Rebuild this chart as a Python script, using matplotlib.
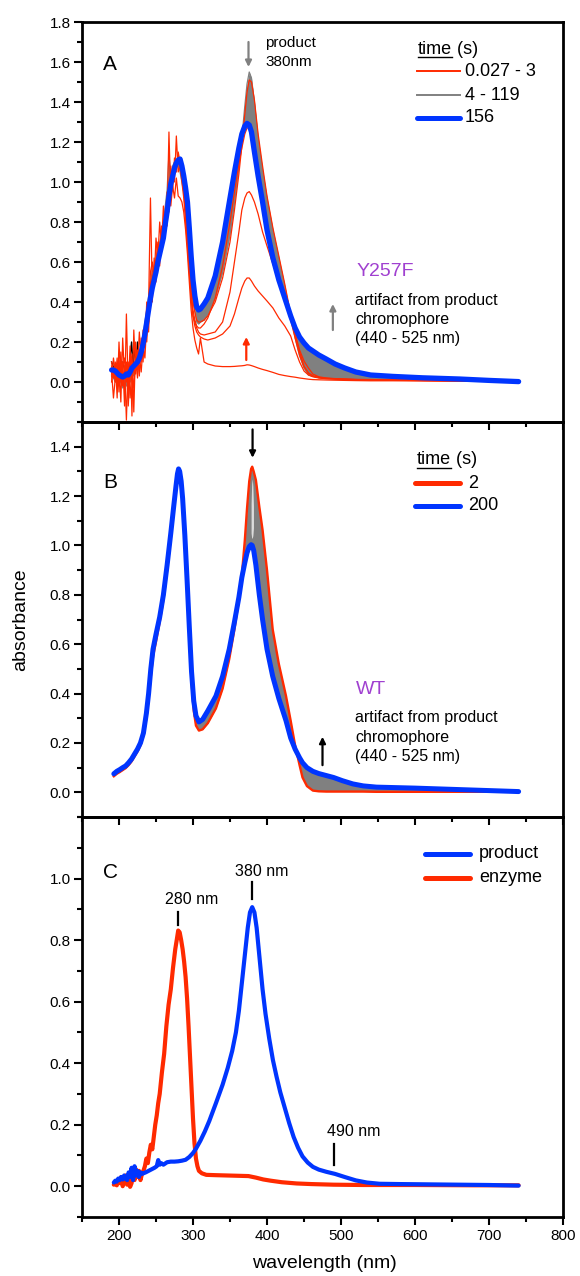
import matplotlib
matplotlib.use("Agg")
import matplotlib.pyplot as plt
from matplotlib.lines import Line2D
from matplotlib.ticker import MultipleLocator, FixedLocator, FormatStrFormatter
import numpy as np

plt.rcParams['font.family'] = ['Liberation Sans', 'DejaVu Sans']

RED = '#ff2a00'
BLUE = '#0035ff'
GRAY = '#808080'
PURPLE = '#a040d0'

# ---------------- Panel A : Y257F, stopped-flow spectra ----------------
A_WL = [190, 192.5, 195, 197.5, 200, 202.5, 205, 207.5, 210, 212.5, 215, 217.5,
        220, 222.5, 225, 227.5, 230, 232.5, 235, 237.5, 240, 242.5, 245, 247.5,
        250, 252.5, 255, 257.5, 260, 262.5, 265, 267.5, 270, 272.5, 275, 277.5,
        280, 282.5, 285, 287.5, 290, 292.5, 295, 297.5, 300,
        302.5, 305, 307.5, 310, 315, 320, 330, 340, 350, 356, 362, 366, 370, 373,
        376, 379, 383, 388, 394, 400, 408, 416, 424, 432, 438, 444, 450, 456, 462,
        470, 480, 492, 505, 520, 540, 570, 610, 660, 700, 740]

# early traces, 0.027 - 3 s
A_red_1 = [0.05, -0.08, 0.02, 0.12, -0.05, 0.15, -0.02, 0.08, -0.19, 0.10, -0.08, 0.05,
           -0.03, 0.12, 0.02, 0.13, 0.05, 0.18, 0.12, 0.30, 0.25, 0.50, 0.40, 0.62,
           0.50, 0.66, 0.62, 0.72, 0.70, 0.80, 0.78, 0.95, 0.88, 0.98, 0.92, 1.02,
           0.93, 0.92, 0.90, 0.85, 0.76, 0.64, 0.50, 0.36, 0.27,
           0.21, 0.17, 0.14, 0.22, 0.10, 0.09, 0.08, 0.077, 0.077, 0.078, 0.08, 0.081, 0.083, 0.086,
           0.085, 0.082, 0.077, 0.07, 0.063, 0.057, 0.048, 0.038, 0.032, 0.027, 0.024, 0.02, 0.017, 0.014, 0.012,
           0.011, 0.01, 0.009, 0.008, 0.007, 0.006, 0.006, 0.005, 0.004, 0.003, 0.0]
A_red_2 = [0.10, 0.03, 0.10, -0.08, 0.20, 0.00, 0.10, -0.12, 0.34, -0.05, 0.18, -0.17,
           0.26, 0.04, 0.16, 0.03, 0.22, 0.10, 0.28, 0.20, 0.38, 0.92, 0.45, 0.55,
           0.60, 0.70, 0.58, 0.78, 0.72, 0.85, 0.82, 1.25, 0.92, 1.05, 1.00, 1.23,
           1.05, 1.08, 1.00, 0.92, 0.80, 0.68, 0.55, 0.42, 0.33,
           0.28, 0.25, 0.235, 0.225, 0.215, 0.21, 0.22, 0.24, 0.28, 0.34, 0.42, 0.47, 0.505, 0.52,
           0.52, 0.505, 0.48, 0.455, 0.43, 0.405, 0.37, 0.32, 0.28, 0.23, 0.16, 0.10, 0.055, 0.035, 0.026,
           0.02, 0.016, 0.014, 0.012, 0.011, 0.01, 0.009, 0.007, 0.005, 0.003, 0.0]
A_red_3 = [0.0, 0.12, 0.05, 0.00, 0.08, -0.10, 0.22, 0.02, 0.10, -0.12, 0.06, 0.14,
           -0.15, 0.20, 0.06, 0.25, 0.10, 0.26, 0.18, 0.40, 0.30, 0.55, 0.60, 0.50,
           0.72, 0.62, 0.80, 0.68, 0.88, 0.76, 0.95, 0.85, 1.08, 0.96, 1.12, 1.05,
           1.15, 1.10, 1.06, 0.95, 0.84, 0.70, 0.57, 0.43, 0.33,
           0.30, 0.27, 0.25, 0.24, 0.235, 0.24, 0.25, 0.30, 0.45, 0.60, 0.75, 0.86, 0.92, 0.945,
           0.952, 0.935, 0.90, 0.84, 0.75, 0.68, 0.59, 0.50, 0.44, 0.33, 0.24, 0.16, 0.105, 0.07, 0.04,
           0.026, 0.02, 0.017, 0.015, 0.013, 0.012, 0.011, 0.009, 0.007, 0.004, 0.0]
A_red_4 = [0.08, 0.02, 0.08, 0.03, 0.11, 0.02, 0.07, 0.12, 0.00, 0.08, 0.03, 0.10,
           0.05, 0.09, 0.10, 0.14, 0.15, 0.20, 0.22, 0.28, 0.35, 0.40, 0.48, 0.53,
           0.58, 0.64, 0.66, 0.70, 0.76, 0.82, 0.88, 0.93, 0.98, 1.02, 1.06, 1.09,
           1.12, 1.12, 1.08, 0.98, 0.86, 0.73, 0.58, 0.45, 0.36,
           0.31, 0.28, 0.27, 0.27, 0.29, 0.32, 0.42, 0.58, 0.80, 0.95, 1.09, 1.17, 1.24, 1.27,
           1.27, 1.24, 1.16, 1.04, 0.90, 0.77, 0.63, 0.52, 0.42, 0.31, 0.22, 0.135, 0.075, 0.045, 0.03,
           0.022, 0.018, 0.016, 0.014, 0.012, 0.011, 0.01, 0.008, 0.006, 0.004, 0.0]
A_red_5 = [0.04, 0.07, 0.0, 0.06, 0.02, 0.09, 0.01, 0.05, 0.08, -0.01, 0.07, 0.02,
           0.09, 0.06, 0.09, 0.10, 0.16, 0.17, 0.26, 0.32, 0.40, 0.46, 0.52, 0.56,
           0.60, 0.63, 0.68, 0.72, 0.78, 0.84, 0.90, 0.96, 1.00, 1.05, 1.09, 1.11,
           1.10, 1.08, 1.03, 0.96, 0.88, 0.78, 0.65, 0.50, 0.40,
           0.35, 0.31, 0.30, 0.30, 0.31, 0.33, 0.40, 0.52, 0.70, 0.86, 1.04, 1.18, 1.34, 1.45,
           1.51, 1.50, 1.41, 1.24, 1.08, 0.93, 0.77, 0.63, 0.49, 0.34, 0.235, 0.15, 0.08, 0.045, 0.03,
           0.022, 0.018, 0.016, 0.014, 0.012, 0.011, 0.01, 0.008, 0.006, 0.004, 0.0]
A_RED = [A_red_1, A_red_2, A_red_3, A_red_4, A_red_5]

# first of the 4 - 119 s traces (the last one is the 156 s trace)
A_gray_first = [0.03, 0.02, 0.0, 0.02, -0.02, 0.01, -0.03, 0.0, -0.02, 0.02, 0.0, 0.04,
                0.03, 0.06, 0.08, 0.12, 0.16, 0.22, 0.30, 0.36, 0.43, 0.50, 0.55, 0.58,
                0.62, 0.66, 0.70, 0.74, 0.80, 0.88, 0.96, 1.14, 1.02, 1.08, 1.10, 1.10,
                1.08, 1.05, 1.00, 0.95, 0.88, 0.80, 0.68, 0.52, 0.42,
                0.36, 0.30, 0.29, 0.30, 0.31, 0.34, 0.42, 0.55, 0.74, 0.90, 1.08, 1.22, 1.38, 1.49,
                1.55, 1.52, 1.40, 1.22, 1.06, 0.92, 0.76, 0.62, 0.48, 0.33, 0.22, 0.13, 0.07, 0.035, 0.028,
                0.024, 0.02, 0.018, 0.016, 0.014, 0.013, 0.012, 0.01, 0.008, 0.005, 0.0]
A_blue_156 = [0.06, 0.06, 0.055, 0.045, 0.035, 0.03, 0.025, 0.03, 0.04, 0.035, 0.05, 0.07,
              0.08, 0.09, 0.10, 0.12, 0.15, 0.19, 0.24, 0.30, 0.36, 0.42, 0.47, 0.51,
              0.55, 0.60, 0.64, 0.68, 0.72, 0.79, 0.85, 0.93, 0.99, 1.03, 1.07, 1.095,
              1.11, 1.115, 1.08, 1.03, 0.97, 0.90, 0.77, 0.63, 0.51,
              0.43, 0.375, 0.36, 0.365, 0.39, 0.42, 0.53, 0.70, 0.92, 1.05, 1.17, 1.24, 1.28, 1.293,
              1.285, 1.25, 1.15, 1.03, 0.90, 0.76, 0.62, 0.51, 0.42, 0.33, 0.27, 0.225, 0.195, 0.17, 0.155,
              0.135, 0.115, 0.09, 0.07, 0.05, 0.035, 0.028, 0.021, 0.015, 0.008, 0.002]

A_black_wl = [190, 193, 196, 199, 202, 205, 208, 211, 214, 217, 219, 221, 223, 225, 227, 229]
A_black = [0.10, 0.07, 0.04, 0.09, 0.05, 0.10, 0.06, 0.03, 0.08, 0.20, 0.09, 0.18, 0.07, 0.20, 0.10, 0.12]

# ---------------- Panel B : wild type ----------------
B_WL = [193, 197, 201, 205, 209, 213, 217, 221, 225, 229, 233, 237, 240, 243, 246, 250,
        255, 260, 265, 270, 274, 277, 279, 280.5, 282, 284, 286, 289, 292, 295, 298, 301,
        304, 308, 313, 320, 331, 340, 349, 356, 362, 366, 370, 373, 376, 378.5, 380, 382,
        385, 389.6, 394, 400, 407.7, 416, 425.7, 432, 438, 444, 448, 454, 462, 470, 480,
        490, 502, 516, 530, 548, 600, 650, 700, 740]
B_red_2s = [0.065, 0.075, 0.082, 0.09, 0.098, 0.11, 0.125, 0.145, 0.165, 0.19, 0.23, 0.30, 0.38, 0.47, 0.55, 0.61,
            0.69, 0.78, 0.90, 1.03, 1.15, 1.23, 1.28, 1.30, 1.29, 1.25, 1.18, 1.02, 0.84, 0.64, 0.45, 0.33,
            0.27, 0.25, 0.255, 0.28, 0.34, 0.42, 0.54, 0.66, 0.78, 0.88, 1.02, 1.15, 1.26, 1.31, 1.319, 1.30,
            1.265, 1.157, 1.063, 0.90, 0.66, 0.52, 0.39, 0.29, 0.19, 0.11, 0.06, 0.025, 0.007, 0.004, 0.003,
            0.003, 0.003, 0.003, 0.003, 0.002, 0.002, 0.002, 0.002, 0.002]
B_blue_200s = [0.075, 0.085, 0.092, 0.10, 0.107, 0.12, 0.135, 0.155, 0.175, 0.20, 0.24, 0.32, 0.40, 0.50, 0.58, 0.64,
               0.71, 0.80, 0.92, 1.05, 1.16, 1.24, 1.29, 1.31, 1.30, 1.26, 1.19, 1.04, 0.86, 0.67, 0.49, 0.37,
               0.31, 0.285, 0.295, 0.33, 0.39, 0.47, 0.58, 0.69, 0.79, 0.87, 0.93, 0.97, 0.995, 1.003, 1.0, 0.98,
               0.92, 0.80, 0.70, 0.58, 0.47, 0.38, 0.29, 0.22, 0.175, 0.14, 0.12, 0.10, 0.085, 0.076, 0.068,
               0.06, 0.047, 0.034, 0.026, 0.021, 0.017, 0.012, 0.007, 0.003]
# thin gap between the intermediate traces at the top of the 380 nm band
B_gap_wl = [378.5, 379.3, 380.1, 380.9, 381.7]
B_gap_lo = [1.05, 1.03, 1.03, 1.04, 1.07]
B_gap_hi = [1.17, 1.25, 1.27, 1.24, 1.16]

# ---------------- Panel C : reference spectra ----------------
C_prod_wl = [193, 195, 197, 199, 201, 203, 205, 207, 209, 211, 213, 215, 217, 219, 221, 223,
             225, 227, 229, 231, 233, 236, 240, 244, 248, 251, 253, 255, 257, 260, 265, 270,
             275, 280, 285, 290, 295, 300, 304, 310, 316, 322, 331, 340, 347, 353, 358, 362,
             366, 370, 374, 377, 380, 383, 386, 390, 394, 398, 403, 408, 413, 418, 424, 430,
             436, 442, 448, 455, 462, 470, 480, 492, 505, 520, 535, 552, 580, 620, 660, 700, 740]
C_product = [0.012, 0.018, 0.015, 0.025, 0.02, 0.03, 0.022, 0.035, 0.025, 0.02, 0.045, 0.03, 0.06, 0.02, 0.065, 0.035,
             0.05, 0.03, 0.045, 0.04, 0.042, 0.045, 0.05, 0.055, 0.06, 0.065, 0.085, 0.07, 0.075, 0.07, 0.078, 0.08,
             0.08, 0.081, 0.083, 0.086, 0.095, 0.108, 0.122, 0.148, 0.178, 0.212, 0.27, 0.33, 0.385, 0.44, 0.50, 0.57,
             0.66, 0.75, 0.84, 0.89, 0.907, 0.89, 0.84, 0.74, 0.64, 0.56, 0.48, 0.41, 0.355, 0.305, 0.255, 0.205,
             0.16, 0.125, 0.097, 0.077, 0.063, 0.054, 0.047, 0.04, 0.03, 0.019, 0.012, 0.008, 0.007, 0.006, 0.005, 0.004, 0.002]
C_enz_wl = [193, 195, 197, 199, 201, 203, 205, 207, 209, 211, 213, 215, 217, 219, 221, 223,
            225, 227, 229, 231, 233, 235, 237, 239, 241, 243, 245, 247, 249, 251, 253, 255,
            258, 261, 264, 267, 270, 273, 276, 278, 280, 282, 284, 286, 288, 290, 292, 294,
            296, 298, 300, 302, 304, 306, 308, 312, 318, 330, 345, 360, 375, 385, 395, 405,
            420, 440, 460, 490, 530, 600, 680, 740]
C_enzyme = [0.005, 0.01, 0.003, 0.02, 0.01, 0.03, 0.0, 0.015, 0.035, 0.005, 0.02, -0.002, 0.01, 0.05, 0.02, 0.055,
            0.03, 0.05, 0.02, 0.04, 0.05, 0.065, 0.09, 0.075, 0.11, 0.135, 0.12, 0.16, 0.20, 0.23, 0.27, 0.30,
            0.37, 0.43, 0.52, 0.59, 0.64, 0.71, 0.77, 0.80, 0.831, 0.825, 0.80, 0.77, 0.73, 0.68, 0.61, 0.52,
            0.42, 0.32, 0.22, 0.14, 0.09, 0.065, 0.05, 0.042, 0.037, 0.036, 0.035, 0.034, 0.033, 0.028, 0.022, 0.018,
            0.013, 0.009, 0.007, 0.005, 0.004, 0.004, 0.003, 0.003]

# ---------------- figure ----------------
W, H = 580, 1276
fig = plt.figure(figsize=(W / 100, H / 100), dpi=100)


def box(x0, y0, x1, y1):
    return [x0 / W, 1 - y1 / H, (x1 - x0) / W, (y1 - y0) / H]


def ptext(px, py, s, **kw):
    kw.setdefault('va', 'center')
    kw.setdefault('ha', 'left')
    return fig.text(px / W, 1 - py / H, s, **kw)


def pline(x0, x1, py, **kw):
    fig.add_artist(Line2D([x0 / W, x1 / W], [1 - py / H, 1 - py / H],
                          transform=fig.transFigure, **kw))


axA = fig.add_axes(box(82, 22, 563, 422))
axB = fig.add_axes(box(82, 422, 563, 817))
axC = fig.add_axes(box(82, 817, 563, 1217))


def style(ax, ylim, ytop, labels_x):
    ax.set_xlim(150, 800)
    ax.set_ylim(*ylim)
    ax.patch.set_alpha(0)
    for sp in ax.spines.values():
        sp.set_linewidth(2.0)
    ax.xaxis.set_major_locator(MultipleLocator(100))
    ax.xaxis.set_minor_locator(MultipleLocator(50))
    ax.yaxis.set_major_locator(FixedLocator(np.round(np.arange(0, ytop + 0.001, 0.2), 1)))
    ax.yaxis.set_minor_locator(MultipleLocator(0.1))
    ax.yaxis.set_major_formatter(FormatStrFormatter('%.1f'))
    ax.tick_params(axis='y', which='major', direction='out', length=5.8, width=1.5,
                   labelsize=11, pad=2.2)
    ax.tick_params(axis='y', which='minor', direction='out', length=3.6, width=1.5)
    ax.tick_params(axis='x', which='major', direction='out', length=5.5, width=1.5,
                   labelsize=11, pad=3.5, labelbottom=labels_x)
    ax.tick_params(axis='x', which='minor', direction='out', length=3.8, width=1.5)
    ax.tick_params(which='both', top=False, right=False)


style(axA, (-0.2, 1.8), 1.8, False)
style(axB, (-0.1, 1.5), 1.4, False)
style(axC, (-0.1, 1.2), 1.0, True)

# ---- panel A ----
axA.fill_between(A_WL, A_gray_first, A_blue_156, color=GRAY, lw=0, zorder=1)
axA.plot(A_WL, A_gray_first, color=GRAY, lw=0.9, zorder=1.5)
axA.plot(A_black_wl, A_black, color='black', lw=1.0, zorder=1.8)
for tr in A_RED:
    axA.plot(A_WL, tr, color=RED, lw=0.9, zorder=2)
axA.plot(A_WL, A_blue_156, color=BLUE, lw=3.8, zorder=3, solid_capstyle='round')

arr = dict(arrowstyle='-|>', lw=1.6, mutation_scale=9, shrinkA=0, shrinkB=0)
axA.annotate('', xy=(375, 1.575), xytext=(375, 1.70), arrowprops=dict(color=GRAY, **arr))
axA.annotate('', xy=(372, 0.225), xytext=(372, 0.11), arrowprops=dict(color=RED, **arr))
axA.annotate('', xy=(489, 0.39), xytext=(489, 0.26), arrowprops=dict(color=GRAY, **arr))

ptext(103, 65, 'A', fontsize=15)
ptext(265, 43, 'product', fontsize=11)
ptext(265, 62, '380nm', fontsize=11)
ptext(357, 272, 'Y257F', fontsize=14, color=PURPLE)
ptext(355, 300, 'artifact from product', fontsize=11.5)
ptext(355, 319.5, 'chromophore', fontsize=11.5)
ptext(355, 338.5, '(440 - 525 nm)', fontsize=11.5)


def time_header(px, py):
    t = ptext(px, py, 'time', fontsize=13)
    fig.canvas.draw()
    bb = t.get_window_extent()
    ptext(bb.x1, py, ' (s)', fontsize=13)
    pline(bb.x0, bb.x1, py + 8, color='black', lw=1.0)


time_header(418, 49)
pline(417, 460, 71, color=RED, lw=1.4)
ptext(465, 71, '0.027 - 3', fontsize=13)
pline(417, 460, 95, color=GRAY, lw=1.4)
ptext(465, 95, '4 - 119', fontsize=13)
pline(417, 460, 118, color=BLUE, lw=3.6, solid_capstyle='round')
ptext(465, 118, '156', fontsize=13)

# ---- panel B ----
axB.fill_between(B_WL, B_red_2s, B_blue_200s, color=GRAY, lw=0, zorder=1)
axB.fill_between(B_gap_wl, B_gap_lo, B_gap_hi, color='#dcdcdc', lw=0, zorder=1.2)
axB.plot(B_WL, B_red_2s, color=RED, lw=1.7, zorder=2)
axB.plot(B_WL, B_blue_200s, color=BLUE, lw=3.6, zorder=3, solid_capstyle='round')
axB.annotate('', xy=(380.5, 1.355), xytext=(380.5, 1.47), arrowprops=dict(color='black', **arr))
axB.annotate('', xy=(475, 0.225), xytext=(475, 0.11), arrowprops=dict(color='black', **arr))

ptext(103, 483, 'B', fontsize=15)
time_header(417, 460)
pline(415, 460, 483, color=RED, lw=3.6, solid_capstyle='round')
ptext(468, 483, '2', fontsize=13)
pline(415, 460, 506, color=BLUE, lw=3.6, solid_capstyle='round')
ptext(468, 506, '200', fontsize=13)
ptext(356, 689, 'WT', fontsize=14, color=PURPLE)
ptext(355, 717.7, 'artifact from product', fontsize=11.5)
ptext(355, 737.3, 'chromophore', fontsize=11.5)
ptext(355, 756.7, '(440 - 525 nm)', fontsize=11.5)

# ---- panel C ----
axC.plot(C_enz_wl, C_enzyme, color=RED, lw=3.0, zorder=2, solid_capstyle='round')
axC.plot(C_prod_wl, C_product, color=BLUE, lw=3.0, zorder=3, solid_capstyle='round')
axC.plot([280, 280], [0.848, 0.892], color='black', lw=1.6)
axC.plot([380, 380], [0.932, 0.988], color='black', lw=1.6)
axC.plot([490, 490], [0.070, 0.138], color='black', lw=1.6)
ptext(165, 900, '280 nm', fontsize=11.5)
ptext(235, 872, '380 nm', fontsize=11.5)
ptext(327, 1132, '490 nm', fontsize=11.5)

ptext(103, 873, 'C', fontsize=15)
pline(425, 470, 854, color=BLUE, lw=3.6, solid_capstyle='round')
ptext(479, 854, 'product', fontsize=13)
pline(425, 470, 878, color=RED, lw=3.6, solid_capstyle='round')
ptext(479, 878, 'enzyme', fontsize=13)

# shared axis labels
ptext(20.5, 620, 'absorbance', fontsize=14, rotation=90, ha='center')
ptext(324.5, 1263, 'wavelength (nm)', fontsize=14, ha='center')

fig.savefig('out.png', dpi=100)
